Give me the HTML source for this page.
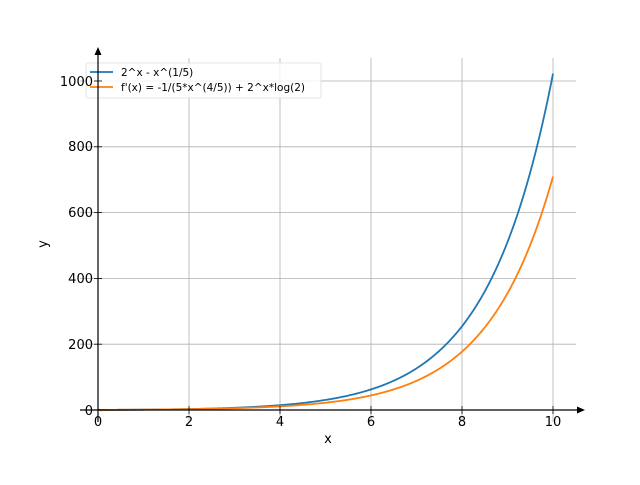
<!DOCTYPE html>
<html><head><meta charset="utf-8"><style>
body{margin:0;background:#fff;}
svg text{font-family:"DejaVu Sans","Liberation Sans",sans-serif;}
</style></head><body>
<svg id="s" width="640" height="480" xmlns="http://www.w3.org/2000/svg">
<g stroke="#b0b0b0" stroke-width="0.8">
<line x1="189" y1="58" x2="189" y2="422"/><line x1="280" y1="58" x2="280" y2="422"/>
<line x1="371" y1="58" x2="371" y2="422"/><line x1="462" y1="58" x2="462" y2="422"/>
<line x1="553" y1="58" x2="553" y2="422"/>
<line x1="80" y1="344.2" x2="576" y2="344.2"/><line x1="80" y1="278.4" x2="576" y2="278.4"/>
<line x1="80" y1="212.6" x2="576" y2="212.6"/><line x1="80" y1="146.8" x2="576" y2="146.8"/>
<line x1="80" y1="81" x2="576" y2="81"/>
</g>
<path id="p1" fill="none" stroke="#1f77b4" stroke-width="1.8"/>
<path id="p2" fill="none" stroke="#ff7f0e" stroke-width="1.8"/>
<rect x="86" y="63" width="235" height="35" rx="2" fill="#fff" fill-opacity="0.8" stroke="#ddd" stroke-width="0.8"/>
<line x1="90" y1="72" x2="113" y2="72" stroke="#1f77b4" stroke-width="1.8"/>
<line x1="90" y1="87" x2="113" y2="87" stroke="#ff7f0e" stroke-width="1.8"/>
<text x="121" y="76" font-size="10.5">2^x - x^(1/5)</text>
<text x="121" y="91" font-size="10.5">f'(x) = -1/(5*x^(4/5)) + 2^x*log(2)</text>
<g stroke="#000" stroke-width="1.2">
<line x1="80" y1="410" x2="580" y2="410"/>
<line x1="98" y1="422" x2="98" y2="52"/>
</g>
<polygon points="585,410 577,406.5 577,413.5" fill="#000"/>
<polygon points="98,47 94.5,55 101.5,55" fill="#000"/>
<g stroke="#000" stroke-width="0.8">
<line x1="98" y1="410" x2="98" y2="414"/><line x1="189" y1="406" x2="189" y2="414"/>
<line x1="280" y1="406" x2="280" y2="414"/><line x1="371" y1="406" x2="371" y2="414"/>
<line x1="462" y1="406" x2="462" y2="414"/><line x1="553" y1="406" x2="553" y2="414"/>
<line x1="94" y1="410" x2="102" y2="410"/><line x1="94" y1="344.2" x2="102" y2="344.2"/>
<line x1="94" y1="278.4" x2="102" y2="278.4"/><line x1="94" y1="212.6" x2="102" y2="212.6"/>
<line x1="94" y1="146.8" x2="102" y2="146.8"/><line x1="94" y1="81" x2="102" y2="81"/>
</g>
<g font-size="13" fill="#000" text-anchor="middle">
<text x="98" y="426">0</text><text x="189" y="426">2</text><text x="280" y="426">4</text>
<text x="371" y="426">6</text><text x="462" y="426">8</text><text x="553" y="426">10</text>
</g>
<g font-size="13" fill="#000" text-anchor="end">
<text x="93" y="415">0</text><text x="93" y="349">200</text><text x="93" y="283">400</text>
<text x="93" y="217">600</text><text x="93" y="151">800</text><text x="93" y="86">1000</text>
</g>
<text x="328" y="443" font-size="13" text-anchor="middle">x</text>
<text x="47" y="244" font-size="13" text-anchor="middle" transform="rotate(-90 47 244)">y</text>
</svg>
<script>
function X(x){return 98+45.5*x}function Y(y){return 410-0.329*y}
var a="",b="";
for(var i=0;i<=400;i++){var x=0.001+i*9.999/400;
var f=Math.pow(2,x)-Math.pow(x,0.2);var g=Math.pow(2,x)*Math.LN2-0.2*Math.pow(x,-0.8);
a+=(i?"L":"M")+X(x).toFixed(2)+","+Y(f).toFixed(2);
if(x>0.03)b+=(b?"L":"M")+X(x).toFixed(2)+","+Y(g).toFixed(2);}
document.getElementById("p1").setAttribute("d",a);
document.getElementById("p2").setAttribute("d",b);
</script>
</body></html>
